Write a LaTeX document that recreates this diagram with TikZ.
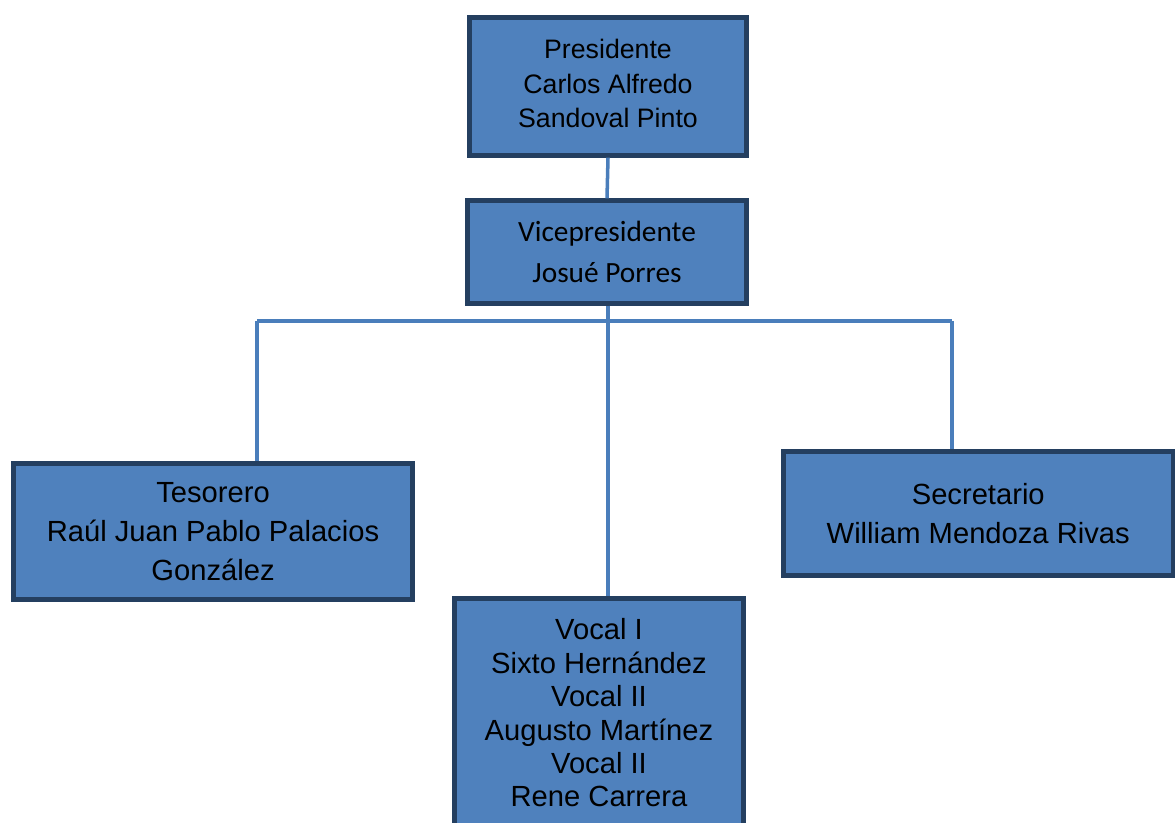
\documentclass[tikz,border=0pt]{standalone}
\usepackage{fontspec}
\setmainfont{Liberation Sans}
\newfontfamily\calfont{Carlito}
\definecolor{boxblue}{HTML}{4F81BD}
\definecolor{boxline}{HTML}{243F60}
\definecolor{linkblue}{HTML}{4A7EBB}
\begin{document}
\begin{tikzpicture}[x=0.02cm,y=-0.02cm,
    cargo/.style={draw=boxline,line width=2.5pt,fill=boxblue,align=center,inner sep=0pt},
    link/.style={draw=linkblue,line width=2pt}]
  \useasboundingbox (0,0) rectangle (1176,822);
  \clip (0,0) rectangle (1176,822);

  % cajas
  \node[cargo,minimum width=277*0.02cm,minimum height=138*0.02cm,
    font=\fontsize{15.2}{19.8}\selectfont] (pres) at (608,86.5)
    {Presidente\\Carlos Alfredo\\Sandoval Pinto\rule[-3.4pt]{0pt}{0pt}};
  \node[cargo,minimum width=279*0.02cm,minimum height=103*0.02cm,
    font=\calfont\fontsize{16.7}{23.2}\selectfont] (vice) at (607,252)
    {Vicepresidente\\Josué Porres};
  \node[cargo,minimum width=399*0.02cm,minimum height=136*0.02cm,
    font=\fontsize{16.6}{22.1}\selectfont] (tes) at (213,531.5)
    {Tesorero\\Raúl Juan Pablo Palacios\\González};
  \node[cargo,minimum width=389.5*0.02cm,minimum height=124*0.02cm,
    font=\fontsize{16.6}{22.1}\selectfont] (sec) at (978.25,513.5)
    {Secretario\\William Mendoza Rivas};
  \node[cargo,minimum width=289*0.02cm,minimum height=229*0.02cm,
    font=\fontsize{16.6}{19}\selectfont] (voc) at (599,713)
    {Vocal I\\Sixto Hernández\\Vocal II\\Augusto Martínez\\Vocal II\\Rene Carrera};

  % lineas
  \coordinate (barL) at (257,321);
  \coordinate (barR) at (952,321);
  \draw[link] (pres.south) -- (vice.north);
  \draw[link] ([xshift=0.02cm]vice.south) -- ([xshift=0.02cm]vice.south |- voc.north);
  \draw[link] (barL) -- (barR);
  \draw[link] (barL) -- (barL |- tes.north);
  \draw[link] (barR) -- (barR |- sec.north);
\end{tikzpicture}
\end{document}
